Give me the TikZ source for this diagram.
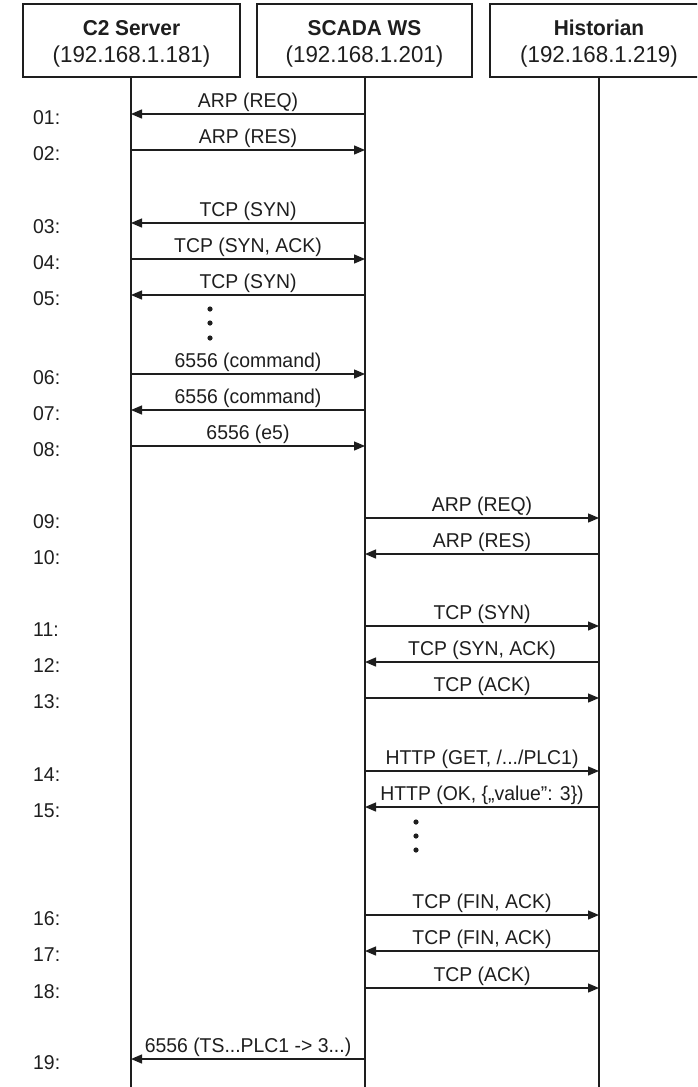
\documentclass[tikz,border=0pt]{standalone}
\usepackage{fontspec}
\setmainfont{Liberation Sans}[FakeStretch=0.97]
\usetikzlibrary{arrows.meta}
\definecolor{ink}{HTML}{1E1E1E}
\tikzset{
  hdrbox/.style={draw=ink, line width=1.2pt},
  lifeline/.style={draw=ink, line width=1.3pt},
  msg/.style={draw=ink, line width=1.3pt, -{Triangle[length=11pt,width=9pt]}},
  msglabel/.style={anchor=base, font=\fontsize{20}{23}\selectfont, text=ink, inner sep=0pt},
  rowlabel/.style={anchor=west, font=\fontsize{20}{23}\selectfont, text=ink, inner sep=0pt},
  hdrtext/.style={align=center, text=ink, inner sep=0pt},
  dotmark/.style={fill=ink, draw=none}
}
\begin{document}
\begin{tikzpicture}[x=1pt,y=-1pt]
\useasboundingbox (0,0) rectangle (697,1087);
\fill[white] (0,0) rectangle (697,1087);
\clip (0,0) rectangle (697,1087);
% header boxes
\draw[hdrbox] (23,4) rectangle (240,77);
\draw[hdrbox] (257,4) rectangle (472,77);
\draw[hdrbox] (490,4) rectangle (712,77);
\node[hdrtext, font=\bfseries\fontsize{21.5}{24}\selectfont] (hc) at (131.5,28) {C2 Server};
\node[hdrtext, font=\fontsize{23}{26}\selectfont] (ic) at (131.5,57) {(192.168.1.181)};
\node[hdrtext, font=\bfseries\fontsize{21.5}{24}\selectfont] (hs) at (364.5,28) {SCADA WS};
\node[hdrtext, font=\fontsize{23}{26}\selectfont] (is) at (364.5,57) {(192.168.1.201)};
\node[hdrtext, font=\bfseries\fontsize{21.5}{24}\selectfont] (hh) at (599,28) {Historian};
\node[hdrtext, font=\fontsize{23}{26}\selectfont] (ih) at (599,57) {(192.168.1.219)};
% lifelines
\coordinate (Ctop) at (131,77);  \coordinate (Cbot) at (131,1090);
\coordinate (Stop) at (365,77);  \coordinate (Sbot) at (365,1090);
\coordinate (Htop) at (599,77);  \coordinate (Hbot) at (599,1090);
\draw[lifeline] (Ctop) -- (Cbot);
\draw[lifeline] (Stop) -- (Sbot);
\draw[lifeline] (Htop) -- (Hbot);
% messages
\foreach \n/\y/\a/\b/\t in {
  01/114/365/131/{ARP (REQ)},
  02/150/131/365/{ARP (RES)},
  03/223/365/131/{TCP (SYN)},
  04/259/131/365/{TCP (SYN, ACK)},
  05/295/365/131/{TCP (SYN)},
  06/374/131/365/{6556 (command)},
  07/410/365/131/{6556 (command)},
  08/446/131/365/{6556 (e5)},
  09/518/365/599/{ARP (REQ)},
  10/554/599/365/{ARP (RES)},
  11/626/365/599/{TCP (SYN)},
  12/662/599/365/{TCP (SYN, ACK)},
  13/698/365/599/{TCP (ACK)},
  14/771/365/599/{HTTP (GET, /.../PLC1)},
  15/807/599/365/{HTTP (OK, \{„value”: 3\})},
  16/915/365/599/{TCP (FIN, ACK)},
  17/951/599/365/{TCP (FIN, ACK)},
  18/988/365/599/{TCP (ACK)},
  19/1059/365/131/{6556 (TS...PLC1 -> 3...)}}{
  \coordinate (src\n) at (\a,\y);
  \coordinate (dst\n) at (\b,\y);
  \draw[msg] (src\n) -- (dst\n);
  \node[msglabel] (lab\n) at ({(\a+\b)/2},{\y-7}) {\t};
  \node[rowlabel] (row\n) at (33,{\y+4}) {\n:};
}
% ellipsis dots
\foreach \yy in {309,323,338} \fill[dotmark] (210,\yy) circle (2.6);
\foreach \yy in {822,836,850} \fill[dotmark] (416,\yy) circle (2.6);
\end{tikzpicture}
\end{document}
